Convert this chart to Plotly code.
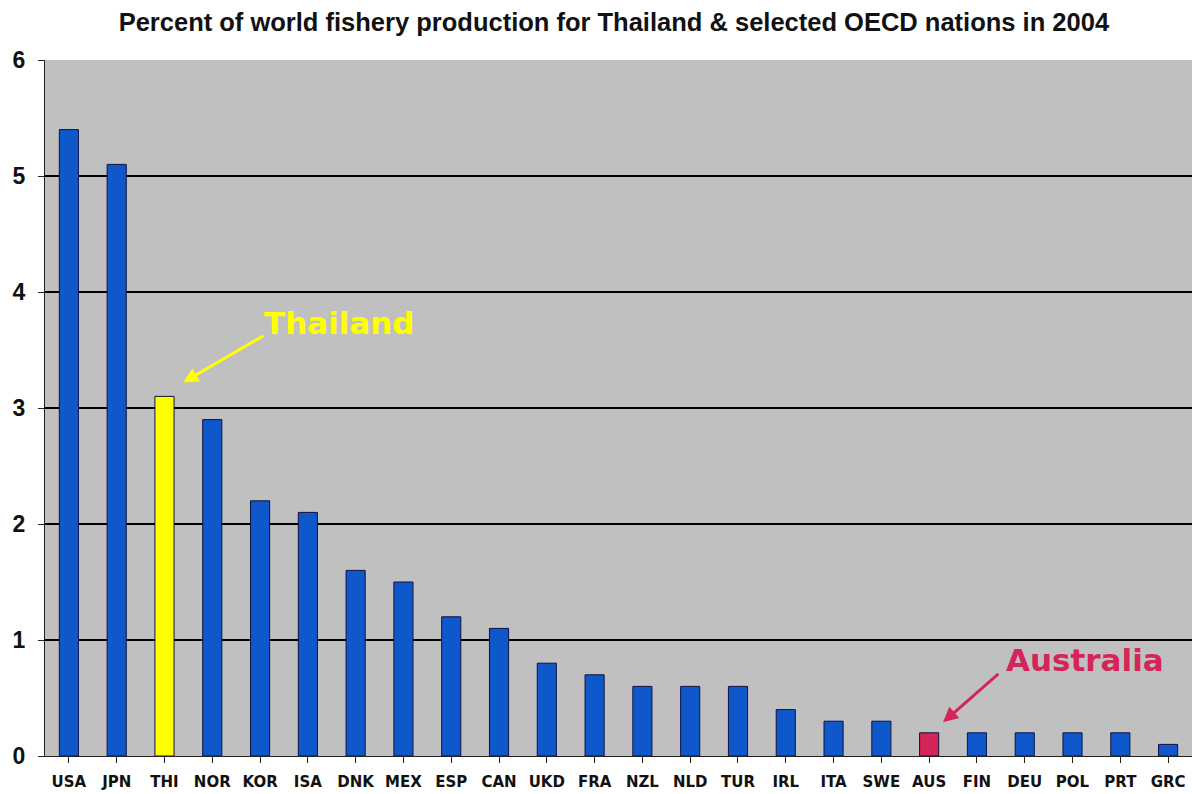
import plotly.graph_objects as go

countries = ["USA", "JPN", "THI", "NOR", "KOR", "ISA", "DNK", "MEX", "ESP", "CAN", "UKD", "FRA",
             "NZL", "NLD", "TUR", "IRL", "ITA", "SWE", "AUS", "FIN", "DEU", "POL", "PRT", "GRC"]
percent = [5.4, 5.1, 3.1, 2.9, 2.2, 2.1, 1.6, 1.5, 1.2, 1.1, 0.8, 0.7,
           0.6, 0.6, 0.6, 0.4, 0.3, 0.3, 0.2, 0.2, 0.2, 0.2, 0.2, 0.1]
y_ticks = [0, 1, 2, 3, 4, 5, 6]

BLUE = "#0F58CC"
YELLOW = "#FFFF00"
CRIMSON = "#D4245A"
colors = [YELLOW if c == "THI" else CRIMSON if c == "AUS" else BLUE for c in countries]

fig = go.Figure(go.Bar(
    x=countries, y=percent, marker=dict(color=colors, line=dict(color="#101040", width=1)),
    width=0.4,
))

fig.update_layout(
    width=1192, height=794,
    margin=dict(l=45, r=0, t=60, b=38),
    paper_bgcolor="white", plot_bgcolor="#C0C0C0",
    showlegend=False,
    title=dict(text="Percent of world fishery production for Thailand & selected OECD nations in 2004",
               x=0.515, xanchor="center", y=0.972, yanchor="middle",
               font=dict(family="Liberation Sans Narrow, Arial Narrow, Arial", size=25.5, color="#111111", weight="bold")),
    font=dict(family="Arial, Liberation Sans", color="#111111"),
)
fig.update_xaxes(
    type="category", showline=True, linecolor="#222222", linewidth=1,
    ticks="outside", ticklen=6, tickcolor="#222222", ticklabelstandoff=6,
    tickfont=dict(size=15, weight="bold", family="Verdana, DejaVu Sans"),
    showgrid=False, mirror=False, range=[-0.5, 23.5],
)
fig.update_yaxes(
    range=[0, 6], tickvals=y_ticks, showline=True, linecolor="#222222", linewidth=1,
    ticks="outside", ticklen=6, tickcolor="#222222", ticklabelstandoff=8,
    tickfont=dict(size=23, weight="bold", family="Arial, Liberation Sans"),
    showgrid=True, gridcolor="black", gridwidth=2, zeroline=False,
)

fig.add_annotation(x=5.67, y=3.73, xref="x", yref="y", text="<b>Thailand</b>", showarrow=False,
                   font=dict(family="Verdana, DejaVu Sans", size=31, color=YELLOW))
fig.add_annotation(x=2.39, y=3.22, ax=4.1, ay=3.63, xref="x", yref="y", axref="x", ayref="y",
                   text="", showarrow=True, arrowhead=2, arrowsize=1, arrowwidth=3, arrowcolor=YELLOW)
fig.add_annotation(x=21.26, y=0.83, xref="x", yref="y", text="<b>Australia</b>", showarrow=False,
                   font=dict(family="Verdana, DejaVu Sans", size=31, color=CRIMSON))
fig.add_annotation(x=18.29, y=0.29, ax=19.48, ay=0.72, xref="x", yref="y", axref="x", ayref="y",
                   text="", showarrow=True, arrowhead=2, arrowsize=1, arrowwidth=3, arrowcolor=CRIMSON)

fig.write_html("out.html")
